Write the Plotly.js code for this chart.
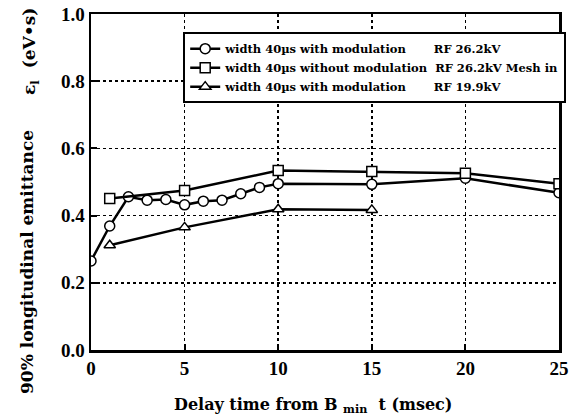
<!DOCTYPE html>
<html><head><meta charset="utf-8">
<script src="https://cdn.plot.ly/plotly-3.0.1.min.js"></script>
<style>body{margin:0;background:#fff}#c{width:581px;height:420px}</style>
</head><body><div id="c"></div>
<script>
const circleX = [0, 1, 2, 3, 4, 5, 6, 7, 8, 9, 10, 15, 20, 25];
const circleY = [0.265, 0.369, 0.456, 0.446, 0.448, 0.432, 0.443, 0.446, 0.465, 0.484, 0.495, 0.493, 0.511, 0.468];
const squareX = [1, 5, 10, 15, 20, 25];
const squareY = [0.451, 0.475, 0.534, 0.531, 0.526, 0.495];
const triX = [1, 5, 10, 15];
const triY = [0.312, 0.365, 0.419, 0.417];
const names = ["width 40\u00b5s with modulation", "width 40\u00b5s without modulation", "width 40\u00b5s with modulation"];
const rfLabels = ["RF 26.2kV", "RF 26.2kV Mesh in", "RF 19.9kV"];
const xTicks = [0, 5, 10, 15, 20, 25];
const yTicks = [0.0, 0.2, 0.4, 0.6, 0.8, 1.0];

const F = "Liberation Serif";
const TF = "DejaVu Serif";
const LF = "DejaVu Serif";
const LS = 11.5;
// pad legend names so the RF column lines up
const cv = document.createElement("canvas").getContext("2d");
cv.font = "bold " + LS + "px '" + LF + "'";
const widths = names.map(n => cv.measureText(n).width);
const nb = cv.measureText("\u00a0").width;
const target = Math.max(...widths) + 7;
const legendNames = names.map((n, i) => n + "\u00a0".repeat(Math.max(1, Math.round((target - widths[i]) / nb))) + rfLabels[i]);

const mk = (sym) => ({symbol: sym, size: 10, color: "white", line: {color: "black", width: 1.5}});
const traces = [
  {x: circleX, y: circleY, name: legendNames[0], mode: "lines+markers", line: {color: "black", width: 2.5}, marker: mk("circle")},
  {x: squareX, y: squareY, name: legendNames[1], mode: "lines+markers", line: {color: "black", width: 2.5}, marker: mk("square")},
  {x: triX, y: triY, name: legendNames[2], mode: "lines+markers", line: {color: "black", width: 2.5}, marker: mk("triangle-up")}
];
const annotations = [];
annotations.push({text: "90% longitudinal emittance", textangle: -90, xref: "paper", yref: "paper",
  x: (27 - 91) / 468, y: (350 - 262) / 336, xanchor: "center", yanchor: "middle", showarrow: false,
  font: {family: TF, size: 17, color: "black", weight: "bold"}});
annotations.push({text: "\u03b5<sub>l</sub>  (eV\u2022s)", textangle: -90, xref: "paper", yref: "paper",
  x: (30 - 91) / 468, y: (350 - 51) / 336, xanchor: "center", yanchor: "middle", showarrow: false,
  font: {family: TF, size: 17, color: "black", weight: "bold"}});
annotations.push({text: "Delay time from B <sub>min</sub>  t (msec)", xref: "paper", yref: "paper",
  x: (313 - 91) / 468, y: (350 - 405) / 336, xanchor: "center", yanchor: "middle", showarrow: false,
  font: {family: TF, size: 16, color: "black", weight: "bold"}});

const layout = {
  width: 581, height: 420,
  margin: {l: 91, r: 22, t: 14, b: 70},
  paper_bgcolor: "white", plot_bgcolor: "white",
  showlegend: true,
  legend: {x: 0.197, y: 0.946, xanchor: "left", yanchor: "top", bgcolor: "white",
    bordercolor: "black", borderwidth: 2, tracegroupgap: 0, itemwidth: 30,
    font: {family: LF, size: LS, color: "black", weight: "bold"}},
  xaxis: {range: [0, 25], tickvals: xTicks, ticktext: xTicks.map(String), showgrid: true,
    gridcolor: "black", griddash: "dot", gridwidth: 1.5, zeroline: false,
    showline: true, mirror: true, linecolor: "black", linewidth: 2.5,
    ticks: "inside", ticklen: 6, tickcolor: "black", tickwidth: 2, automargin: false,
    tickfont: {family: F, size: 19, color: "black", weight: "bold"}},
  yaxis: {range: [0, 1.0], tickvals: yTicks, ticktext: yTicks.map(v => v.toFixed(1)), showgrid: true,
    gridcolor: "black", griddash: "dot", gridwidth: 1.5, zeroline: false,
    showline: true, mirror: true, linecolor: "black", linewidth: 2.5,
    ticks: "inside", ticklen: 6, tickcolor: "black", tickwidth: 2, automargin: false,
    tickfont: {family: F, size: 19, color: "black", weight: "bold"}},
  annotations: annotations
};
Plotly.newPlot("c", traces, layout, {displayModeBar: false, staticPlot: true});
</script></body></html>
